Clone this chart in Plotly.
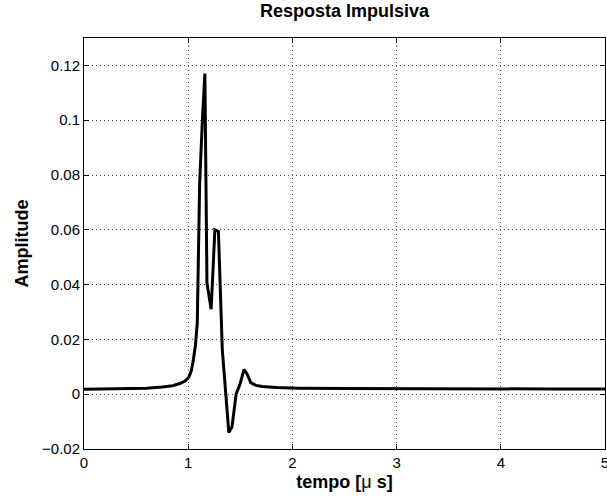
import plotly.graph_objects as go

# time in microseconds, amplitude
tempo = [0.0, 0.3, 0.6, 0.75, 0.85, 0.92, 0.97, 1.006, 1.03, 1.05, 1.07, 1.087, 1.10, 1.11, 1.135, 1.16,
         1.18, 1.22, 1.256, 1.29, 1.327, 1.36, 1.39, 1.42, 1.46, 1.50, 1.535, 1.567, 1.60, 1.65, 1.71,
         1.85, 2.06, 2.5, 3.0, 3.5, 4.0, 4.5, 5.0]
amplitude = [0.0018, 0.0019, 0.0022, 0.0026, 0.0031, 0.0039, 0.0048, 0.0062, 0.0085, 0.0127, 0.018, 0.026, 0.05, 0.077, 0.099, 0.117,
             0.0406, 0.031, 0.060, 0.0594, 0.0164, 0.002, -0.014, -0.012, 0.0, 0.004, 0.009, 0.0073, 0.0042, 0.0032, 0.0028,
             0.0024, 0.0022, 0.0021, 0.0020, 0.0020, 0.0019, 0.0019, 0.0019]

x_ticks = [0, 1, 2, 3, 4, 5]
y_ticks = [-0.02, 0, 0.02, 0.04, 0.06, 0.08, 0.1, 0.12]
y_tick_labels = ["\u22120.02", "0", "0.02", "0.04", "0.06", "0.08", "0.1", "0.12"]

W, H = 607, 498
L, R, T, B = 84, 2, 38, 49

fig = go.Figure()
fig.add_trace(go.Scatter(x=tempo, y=amplitude, mode="lines",
                         line=dict(color="black", width=3), showlegend=False))

font_family = "Liberation Sans, Arial, sans-serif"
axis_common = dict(showline=True, linecolor="black", linewidth=1, mirror="ticks",
                   ticks="inside", ticklen=5, tickcolor="black",
                   showgrid=True, gridcolor="#444444", griddash="1px,3px", gridwidth=1,
                   zeroline=False, automargin=False, ticklabeloverflow="allow",
                   tickfont=dict(family=font_family, size=15, color="black"))

fig.update_layout(
    width=W, height=H,
    margin=dict(l=L, r=R, t=T, b=B),
    paper_bgcolor="white", plot_bgcolor="white",
    title=dict(text="<b>Resposta Impulsiva</b>", x=(L + W - R) / 2 / W, xanchor="center",
               y=1 - 11 / H, yanchor="middle",
               font=dict(family=font_family, size=18, color="black")),
    xaxis=dict(range=[0, 5], tickvals=x_ticks, ticktext=[str(v) for v in x_ticks],
               title=dict(text="<b>tempo [</b>\u03bc<b> s]</b>", standoff=5,
                          font=dict(family=font_family, size=18, color="black")),
               **axis_common),
    yaxis=dict(range=[-0.02, 0.13], tickvals=y_ticks, ticktext=y_tick_labels,
               **axis_common),
)

fig.add_annotation(text="<b>Amplitude</b>", textangle=-90, showarrow=False,
                   xref="paper", yref="paper",
                   x=(21 - L) / (W - L - R), y=0.5, xanchor="center", yanchor="middle",
                   font=dict(family=font_family, size=18, color="black"))

fig.write_html("out.html", config={"displayModeBar": False},
               post_script="document.body.style.margin='0px';")
